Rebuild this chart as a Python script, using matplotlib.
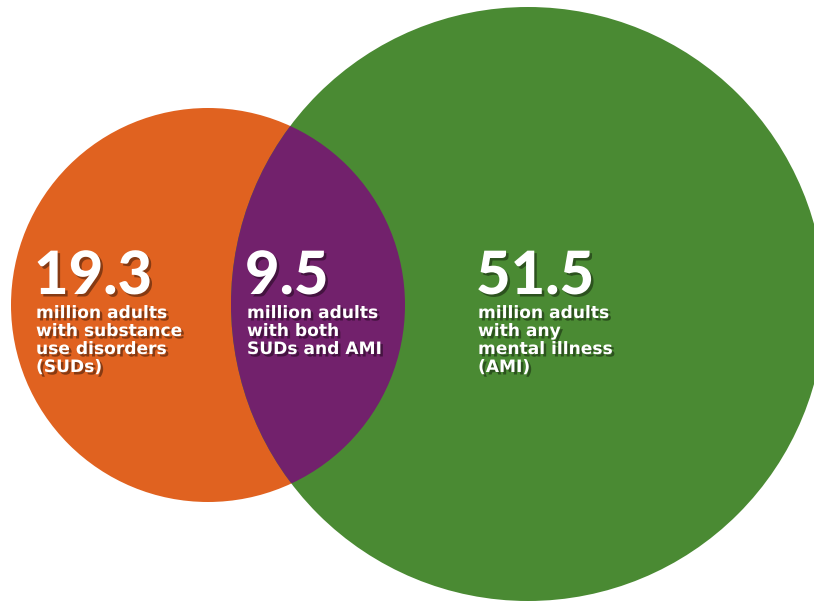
import matplotlib
matplotlib.use("Agg")
import matplotlib.pyplot as plt
from matplotlib.patches import Circle
import matplotlib.patheffects as pe

# Data
values = ["19.3", "9.5", "51.5"]
labels = [
    "million adults\nwith substance\nuse disorders\n(SUDs)",
    "million adults\nwith both\nSUDs and AMI",
    "million adults\nwith any\nmental illness\n(AMI)",
]
colors = ["#E06220", "#72216C", "#4A8A33"]

fig = plt.figure(figsize=(8.14, 6.02), dpi=100)
ax = fig.add_axes([0, 0, 1, 1])
ax.set_xlim(0, 814)
ax.set_ylim(602, 0)
ax.set_aspect("equal")
ax.axis("off")

orange = Circle((208, 305), 197, facecolor=colors[0], edgecolor="none")
green = Circle((528, 304), 297, facecolor=colors[2], edgecolor="none")
ax.add_patch(orange)
ax.add_patch(green)
lens = Circle((208, 305), 197, facecolor=colors[1], edgecolor="none")
ax.add_patch(lens)
lens.set_clip_path(green)

shadow = [pe.SimplePatchShadow(offset=(1.8, -1.8), shadow_rgbFace="black", alpha=0.4), pe.Normal()]
xs = [36, 247, 478]
for x, v, lab in zip(xs, values, labels):
    ax.text(x - 2, 294, v, color="white", fontsize=43, fontfamily="Lato", fontweight="black",
            va="baseline", ha="left", path_effects=shadow)
    ax.text(x, 304, lab, color="white", fontsize=12.3, fontfamily="DejaVu Sans", fontweight="bold",
            va="top", ha="left", linespacing=1.0, path_effects=shadow)

fig.savefig("out.png", dpi=100)
